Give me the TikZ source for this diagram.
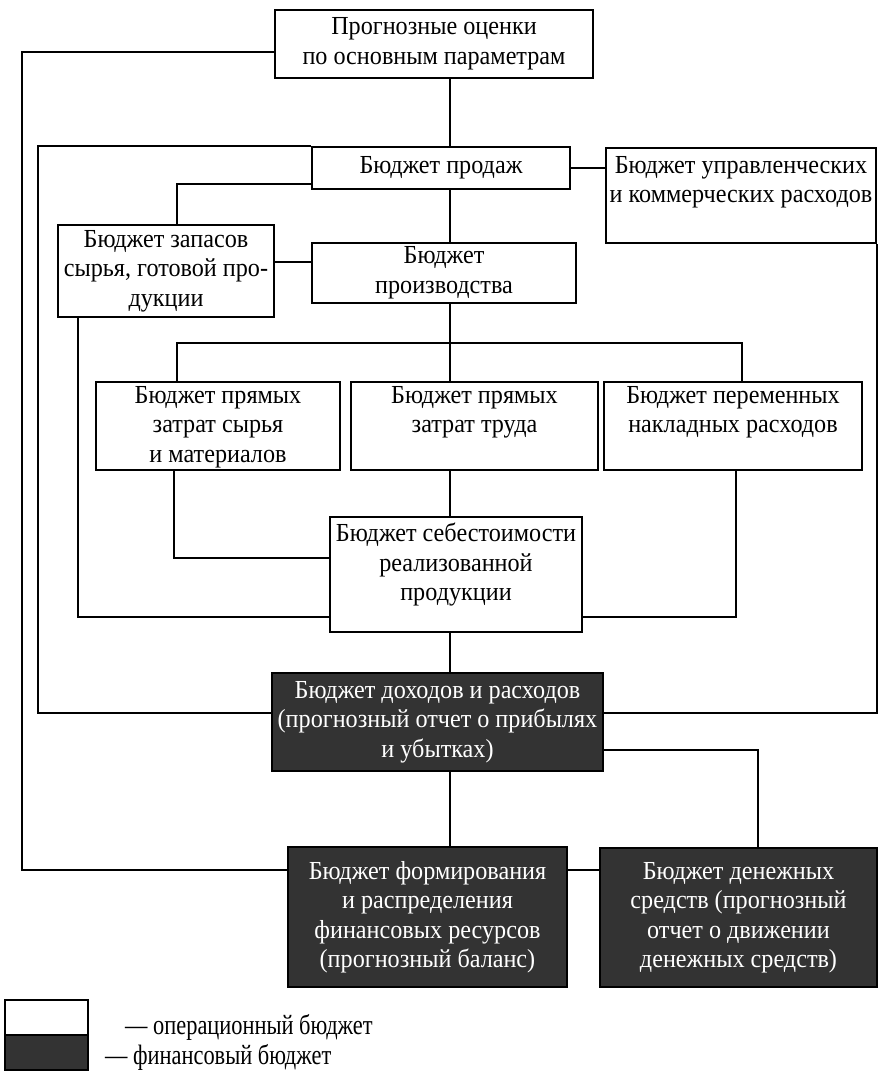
\documentclass[tikz,border=0pt]{standalone}
\usepackage{fontspec}
\setmainfont{Liberation Serif}[FakeStretch=0.93]
\newfontfamily\legfont{Liberation Serif}[FakeStretch=0.8]
\newcommand{\fs}{\fontsize{26}{29.5}\selectfont}
\newcommand{\TB}[4]{\parbox[c][#1][t]{#2}{\centering\vspace*{#3}#4\par}}
\tikzset{
  opbox/.style={draw, line width=2pt, fill=white, inner sep=0pt, align=center, font=\fs},
  finbox/.style={draw, line width=2pt, fill=black!80, text=white, inner sep=0pt, align=center, font=\fs},
  link/.style={line width=1.7pt},
  legtext/.style={anchor=west, inner sep=0pt, font=\legfont\fontsize{28}{30}\selectfont}
}
\begin{document}
\begin{tikzpicture}[x=1pt,y=-1pt]
\useasboundingbox (0,0) rectangle (881,1071);
% operational budget boxes
\node[opbox, minimum width=318pt, minimum height=68pt] (top) at (434,44) {Прогнозные оценки\\по основным параметрам};
\node[opbox, minimum width=258pt, minimum height=42pt] (sales) at (441,168) {Бюджет продаж};
\node[opbox] (mgmt) at (741,195.5) {\TB{95pt}{270pt}{8pt}{Бюджет управленческих\\и коммерческих расходов}};
\node[opbox, minimum width=216pt, minimum height=92pt] (inv) at (166,271) {Бюджет запасов\\сырья, готовой про-\\дукции};
\node[opbox, minimum width=264pt, minimum height=60pt] (prod) at (444,273) {Бюджет\\производства};
\node[opbox] (mat) at (218,426) {\TB{88pt}{244pt}{4pt}{Бюджет прямых\\затрат сырья\\и материалов}};
\node[opbox] (lab) at (474.5,426) {\TB{88pt}{247pt}{4pt}{Бюджет прямых\\затрат труда}};
\node[opbox] (ovh) at (733,426) {\TB{88pt}{258pt}{4pt}{Бюджет переменных\\накладных расходов}};
\node[opbox] (cost) at (456,574.5) {\TB{115pt}{252pt}{6pt}{Бюджет себестоимости\\реализованной\\продукции}};
% financial budget boxes
\node[finbox, minimum width=331pt, minimum height=98pt] (d1) at (437.5,722) {Бюджет доходов и расходов\\(прогнозный отчет о прибылях\\и убытках)};
\node[finbox, minimum width=279pt, minimum height=140pt] (fin1) at (427.5,917) {Бюджет формирования\\и распределения\\финансовых ресурсов\\(прогнозный баланс)};
\node[finbox, minimum width=277pt, minimum height=139pt] (fin2) at (738.5,917.5) {Бюджет денежных\\средств (прогнозный\\отчет о движении\\денежных средств)};
% bend coordinates
\coordinate (vx) at (450,0);
\coordinate (bL) at (22,500);
\coordinate (bL2) at (38,400);
\coordinate (bus) at (450,343);
% connectors
\draw[link] ([yshift=-8pt]top.west) -| (bL) |- ([yshift=47pt]fin1.west);
\draw[link] (top.south -| vx) -- (sales.north -| vx);
\draw[link] (sales.north west) -| (bL2) |- ([yshift=9pt]d1.west);
\draw[link] (mgmt.south east) |- ([yshift=9pt]d1.east);
\draw[link] (sales.east) -- (sales.east -| mgmt.west);
\draw[link] ([yshift=-16pt]sales.west) -| ([xshift=11pt]inv.north);
\draw[link] ([yshift=9pt]inv.east) -- ([yshift=9pt]inv.east -| prod.west);
\draw[link] (sales.south -| vx) -- (prod.north -| vx);
\draw[link] (prod.south -| vx) -- (lab.north -| vx);
\draw[link] ([xshift=-41pt]mat.north) |- (bus) -| ([xshift=9pt]ovh.north);
\draw[link] (lab.south -| vx) -- (cost.north -| vx);
\draw[link] ([xshift=-44pt]mat.south) |- ([yshift=16.5pt]cost.west);
\draw[link] ([xshift=-88pt]inv.south) |- ([yshift=-42.5pt]cost.west);
\draw[link] ([yshift=-42.5pt]cost.east) -| ([xshift=3pt]ovh.south);
\draw[link] (cost.south -| vx) -- (d1.north -| vx);
\draw[link] (d1.south -| vx) -- (fin1.north -| vx);
\draw[link] ([yshift=-28pt]d1.east) -| ([xshift=19.5pt]fin2.north);
\draw[link] ([yshift=47pt]fin1.east) -- ([yshift=47pt]fin1.east -| fin2.west);
% legend
\node[opbox, minimum width=83pt, minimum height=35pt] (legop) at (46.5,1017.5) {};
\node[finbox, minimum width=83pt, minimum height=35pt] (legfin) at (46.5,1052.5) {};
\node[legtext] (legoptext) at (125,1027) {— операционный бюджет};
\node[legtext] (legfintext) at (105,1057) {— финансовый бюджет};
\end{tikzpicture}
\end{document}
